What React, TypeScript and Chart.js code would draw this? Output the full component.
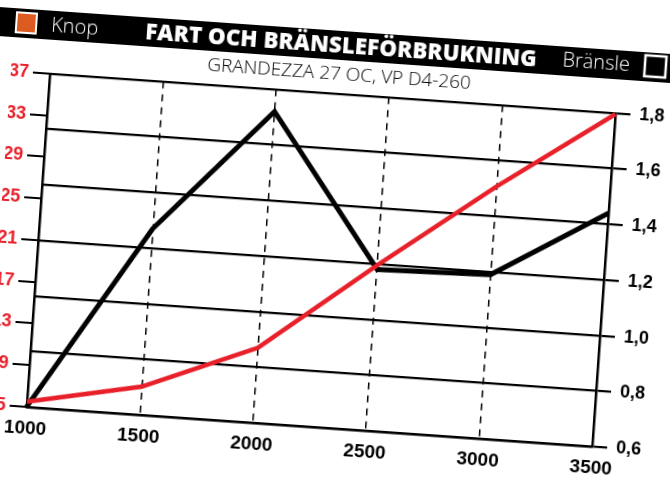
import React, { useEffect, useRef } from 'react';
import { Chart, registerables } from 'chart.js';

Chart.register(...registerables);

// ---- data ----
const rpm = [1000, 1500, 2000, 2500, 3000, 3500];
const knop = [5.5, 7.7, 12.2, 20.9, 29.2, 36.9];
const bransle = [0.6, 1.27, 1.72, 1.18, 1.19, 1.44];
const knopTicks = { min: 5, max: 37, step: 4 };
const bransleTicks = { min: 0.6, max: 1.8, step: 0.2 };
const rpmTicks = { min: 1000, max: 3500, step: 500 };
const titleText = 'FART OCH BRÄNSLEFÖRBRUKNING';
const subtitleText = 'GRANDEZZA 27 OC, VP D4-260';
const knopLabel = 'Knop';
const bransleLabel = 'Bränsle';

// ---- layout ----
const OFF = 20;
const W = 710;
const H = 479;
const RED = '#e8202a';
const ORANGE = '#dd5a20';
const tickFont = { family: '"Liberation Sans", Arial, sans-serif', weight: 'bold' as const, size: 18 };

const headerPlugin = {
  id: 'header',
  beforeDraw(chart: any) {
    const ctx = chart.ctx as CanvasRenderingContext2D;
    ctx.save();
    ctx.fillStyle = '#000';
    ctx.fillRect(0, 31, chart.width, 29);
    // Knop legend
    ctx.fillStyle = ORANGE;
    ctx.fillRect(OFF + 2, 35, 20, 20);
    ctx.strokeStyle = '#fff';
    ctx.lineWidth = 2;
    ctx.strokeRect(OFF + 2, 35, 20, 20);
    ctx.fillStyle = '#fff';
    ctx.font = '300 20px "Open Sans", sans-serif';
    ctx.textBaseline = 'middle';
    ctx.textAlign = 'left';
    ctx.fillText(knopLabel, OFF + 37, 46);
    // Bränsle legend
    ctx.textAlign = 'right';
    ctx.fillText(bransleLabel, OFF + 617, 45);
    ctx.fillStyle = '#000';
    ctx.fillRect(OFF + 632, 34, 21, 21);
    ctx.strokeStyle = '#fff';
    ctx.lineWidth = 2.5;
    ctx.strokeRect(OFF + 632, 34, 21, 21);
    ctx.restore();
  },
};

export default function App() {
  const ref = useRef<HTMLCanvasElement>(null);

  useEffect(() => {
    const canvas = ref.current;
    if (!canvas) return;
    const chart = new Chart(canvas, {
      type: 'line',
      data: {
        datasets: [
          {
            label: knopLabel,
            data: rpm.map((x, i) => ({ x, y: knop[i] })),
            yAxisID: 'y',
            borderColor: RED,
            backgroundColor: RED,
            borderWidth: 4.5,
            pointRadius: 0,
            tension: 0,
            borderJoinStyle: 'miter',
            clip: false as any,
          },
          {
            label: bransleLabel,
            data: rpm.map((x, i) => ({ x, y: bransle[i] })),
            yAxisID: 'y1',
            borderColor: '#000',
            backgroundColor: '#000',
            borderWidth: 5,
            pointRadius: 0,
            tension: 0,
            borderJoinStyle: 'miter',
            clip: false as any,
          },
        ],
      },
      options: {
        responsive: false,
        animation: false,
        layout: { padding: { top: 31, left: OFF, right: 35, bottom: 0 } },
        plugins: {
          legend: { display: false },
          tooltip: { enabled: false },
          title: {
            display: true,
            text: titleText,
            color: '#fff',
            font: { family: '"Open Sans", sans-serif', weight: '800' as any, size: 22.5, lineHeight: 1.2 },
            padding: { top: 2, bottom: 1 },
          },
          subtitle: {
            display: true,
            text: subtitleText,
            color: '#000',
            font: { family: '"Open Sans", sans-serif', weight: '300' as any, size: 19, lineHeight: 1.2 },
            padding: { top: 2, bottom: 8 },
          },
        },
        scales: {
          x: {
            type: 'linear',
            min: rpmTicks.min,
            max: rpmTicks.max,
            ticks: {
              stepSize: rpmTicks.step,
              color: '#000',
              font: { ...tickFont, size: 19 },
              padding: 10,
              callback: (v: any) => String(v),
            },
            grid: {
              color: (c: any) =>
                c.tick && (c.tick.value === rpmTicks.min || c.tick.value === rpmTicks.max)
                  ? 'rgba(0,0,0,0)'
                  : '#000',
              lineWidth: 1.5,
              drawTicks: false,
            },
            border: { display: true, color: '#000', width: 2.5, dash: [7, 6] },
            afterFit: (s: any) => {
              s.height = 51;
            },
          },
          y: {
            position: 'left',
            min: knopTicks.min,
            max: knopTicks.max,
            ticks: {
              stepSize: knopTicks.step,
              color: RED,
              font: tickFont,
              padding: 4,
              callback: (v: any) => String(v),
            },
            grid: { drawOnChartArea: false, color: '#000', lineWidth: 2, tickLength: 17 },
            border: { color: '#000', width: 2.5 },
            afterFit: (s: any) => {
              s.width = 39;
            },
          },
          y1: {
            position: 'right',
            min: bransleTicks.min,
            max: bransleTicks.max,
            ticks: {
              stepSize: bransleTicks.step,
              color: '#000',
              font: tickFont,
              padding: 9,
              callback: (v: any) => Number(v).toFixed(1).replace('.', ','),
            },
            grid: { color: '#000', lineWidth: 2.2, tickLength: 15 },
            border: { color: '#000', width: 2.5 },
            afterFit: (s: any) => {
              s.width = 49;
            },
          },
        },
      },
      plugins: [headerPlugin],
    });
    return () => chart.destroy();
  }, []);

  return (
    <div
      style={{
        position: 'fixed',
        left: -OFF,
        top: 0,
        width: W,
        height: H,
        transform: 'rotate(4deg)',
        transformOrigin: `${335 + OFF}px 239.5px`,
      }}
    >
      <canvas ref={ref} width={W} height={H} style={{ display: 'block', width: W, height: H }} />
    </div>
  );
}
